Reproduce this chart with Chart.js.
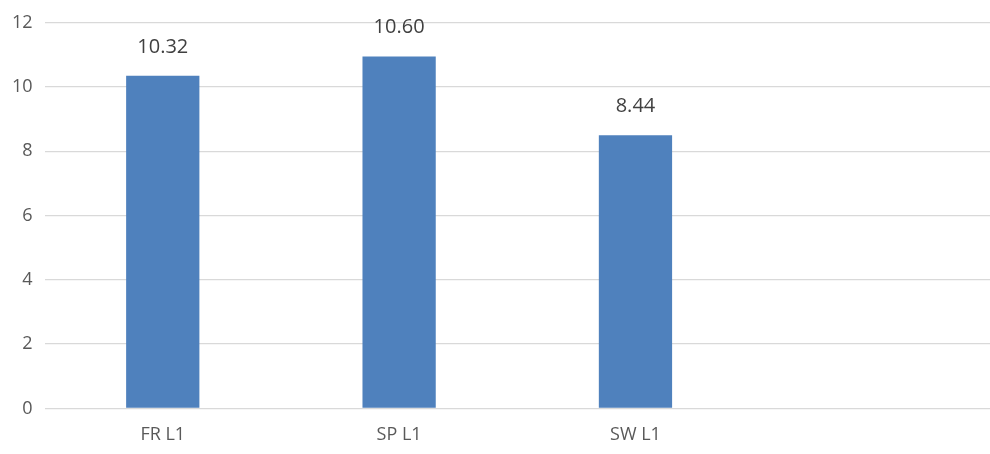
<!DOCTYPE html>
<html><head><meta charset="utf-8">
<script src="https://cdn.jsdelivr.net/npm/chart.js@4"></script>
<style>html,body{margin:0;padding:0;background:#fff}#w{width:990px;height:454px}</style>
</head><body><div id="w"><canvas id="c"></canvas></div>
<script>
const categories = ["FR L1", "SP L1", "SW L1", ""];
const values = [10.35, 10.95, 8.5, null];
const valueLabels = ["10.32", "10.60", "8.44", ""];
const yTicks = [0, 2, 4, 6, 8, 10, 12];

const labelPlugin = {
  id: 'vlabels',
  afterDatasetsDraw(chart) {
    const ctx = chart.ctx;
    const meta = chart.getDatasetMeta(0);
    ctx.save();
    ctx.font = '20px "Open Sans", Calibri, sans-serif';
    ctx.fillStyle = '#404040';
    ctx.textAlign = 'center';
    ctx.textBaseline = 'middle';
    meta.data.forEach((el, i) => {
      if (values[i] == null) return;
      ctx.fillText(valueLabels[i], el.x, el.y - 29);
    });
    ctx.restore();
  }
};

new Chart(document.getElementById('c'), {
  type: 'bar',
  data: { labels: categories, datasets: [{ data: values, backgroundColor: '#4f81bd', barPercentage: 0.31, categoryPercentage: 1 }] },
  options: {
    responsive: true, maintainAspectRatio: false, animation: false,
    layout: { padding: { top: -14, right: 0, left: 0, bottom: 0 } },
    plugins: { legend: { display: false }, tooltip: { enabled: false } },
    scales: {
      x: { grid: { display: false }, border: { display: false },
           ticks: { color: '#595959', font: { size: 18, family: '"Open Sans", sans-serif' }, padding: 8 } },
      y: { min: 0, max: 12, afterBuildTicks: ax => { ax.ticks = yTicks.map(v => ({ value: v })); },
           grid: { color: '#d9d9d9', lineWidth: 1.3, drawTicks: false }, border: { display: false },
           ticks: { color: '#595959', font: { size: 18, family: '"Open Sans", sans-serif' }, padding: 12 } }
    }
  },
  plugins: [labelPlugin]
});
</script></body></html>
